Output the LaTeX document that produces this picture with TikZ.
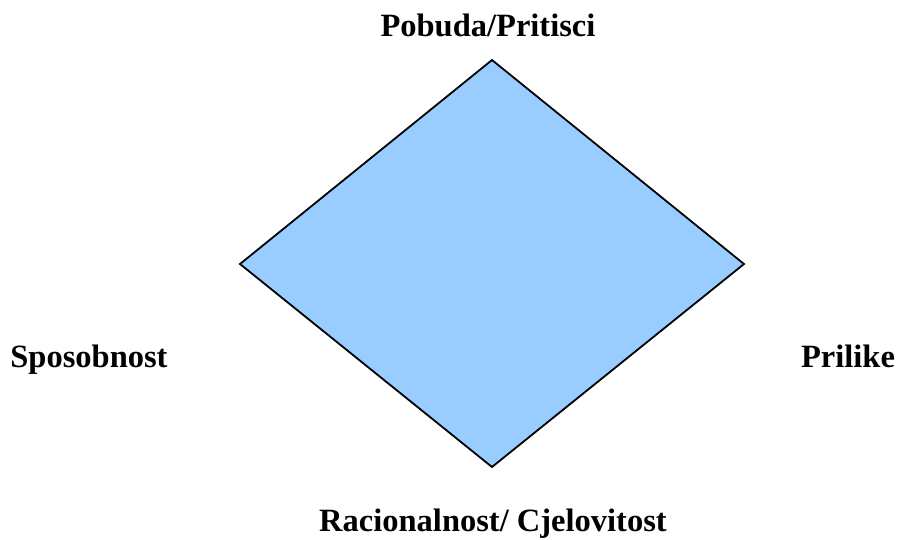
\documentclass[tikz,border=0pt]{standalone}
\usepackage{fontspec}
\setmainfont{Liberation Serif}
\begin{document}
\begin{tikzpicture}[x=1pt,y=-1pt,
  lbl/.style={font=\fontsize{32.5}{38}\selectfont\bfseries, anchor=base, inner sep=0pt},
  diam/.style={draw=black, line width=1.8pt, fill=dblue, line join=miter}]
\definecolor{dblue}{HTML}{99CCFF}
\useasboundingbox (0,0) rectangle (897,540);
\coordinate (T) at (492,60);
\coordinate (L) at (240,264);
\coordinate (R) at (744,264);
\coordinate (B) at (492,467);
\draw[diam] (T) -- (R) -- (B) -- (L) -- cycle;
\node[lbl] (top) at (488,37) {Pobuda/Pritisci};
\node[lbl] (left) at (89,367) {Sposobnost};
\node[lbl] (right) at (848,367) {Prilike};
\node[lbl] (bottom) at (493,531) {Racionalnost/ Cjelovitost};
\end{tikzpicture}
\end{document}
